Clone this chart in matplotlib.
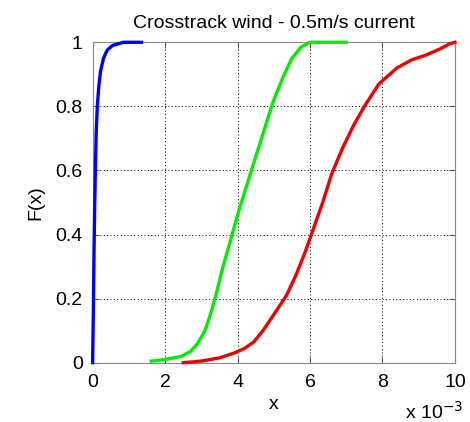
import matplotlib.pyplot as plt

plt.rcParams['font.family'] = ['Liberation Sans', 'DejaVu Sans']

# empirical CDF points, x in units of 1e-3
blue_x = [0.0, 0.02, 0.04, 0.06, 0.08, 0.10, 0.13, 0.17, 0.22, 0.30, 0.40, 0.55, 0.70, 0.85, 1.0, 1.35]
blue_f = [0.0, 0.15, 0.35, 0.50, 0.62, 0.72, 0.80, 0.86, 0.91, 0.95, 0.975, 0.99, 0.995, 1.0, 1.0, 1.0]

green_x = [1.62, 2.0, 2.45, 2.7, 2.9, 3.1, 3.25, 3.4, 3.6, 3.85, 4.05, 4.3, 4.55, 4.8, 5.0, 5.25, 5.5, 5.75, 6.0, 6.5, 7.0]
green_f = [0.005, 0.01, 0.02, 0.035, 0.06, 0.10, 0.15, 0.21, 0.30, 0.40, 0.48, 0.57, 0.66, 0.75, 0.82, 0.89, 0.95, 0.985, 1.0, 1.0, 1.0]

red_x = [2.5, 3.0, 3.5, 3.9, 4.2, 4.45, 4.7, 5.0, 5.35, 5.6, 5.85, 6.1, 6.35, 6.6, 6.9, 7.2, 7.5, 7.9, 8.4, 8.8, 9.2, 9.6, 9.85, 10.0]
red_f = [0.0, 0.005, 0.015, 0.03, 0.045, 0.065, 0.10, 0.15, 0.21, 0.27, 0.34, 0.42, 0.50, 0.59, 0.67, 0.74, 0.80, 0.87, 0.92, 0.945, 0.96, 0.98, 0.995, 1.0]

fig = plt.figure(figsize=(4.7, 4.22), dpi=100)
ax = fig.add_axes([0.197, 0.1405, 0.771, 0.7593])

for xs, fs, c in [(blue_x, blue_f, '#0000ff'), (green_x, green_f, '#00ee00'), (red_x, red_f, '#ee0000')]:
    ax.plot(xs, fs, color=c, lw=2.4, clip_on=False, solid_joinstyle='round', zorder=3)

ax.set_xlim(0, 10)
ax.set_ylim(0, 1)
ax.set_xticks([0, 2, 4, 6, 8, 10])
ax.set_yticks([0, 0.2, 0.4, 0.6, 0.8, 1])
ax.set_yticklabels(['0', '0.2', '0.4', '0.6', '0.8', '1'])
ax.tick_params(direction='in', labelsize=14, length=4, top=True, right=True, color='#555555')
ax.tick_params(axis='y', pad=7)
ax.tick_params(axis='x', pad=8)
ax.grid(True, linestyle=(0, (1, 2.5)), color='black', lw=0.7)
for s in ax.spines.values():
    s.set_color('#888888')

ax.set_title('Crosstrack wind - 0.5m/s current', fontsize=14, pad=10)
ax.set_xlabel('x', fontsize=14, labelpad=4)
ax.set_ylabel('F(x)', fontsize=14, labelpad=8)
fig.text(0.862, 0.008, r'x 10$^{-3}$', fontsize=14)

fig.savefig('out.png', dpi=100, facecolor='white')
